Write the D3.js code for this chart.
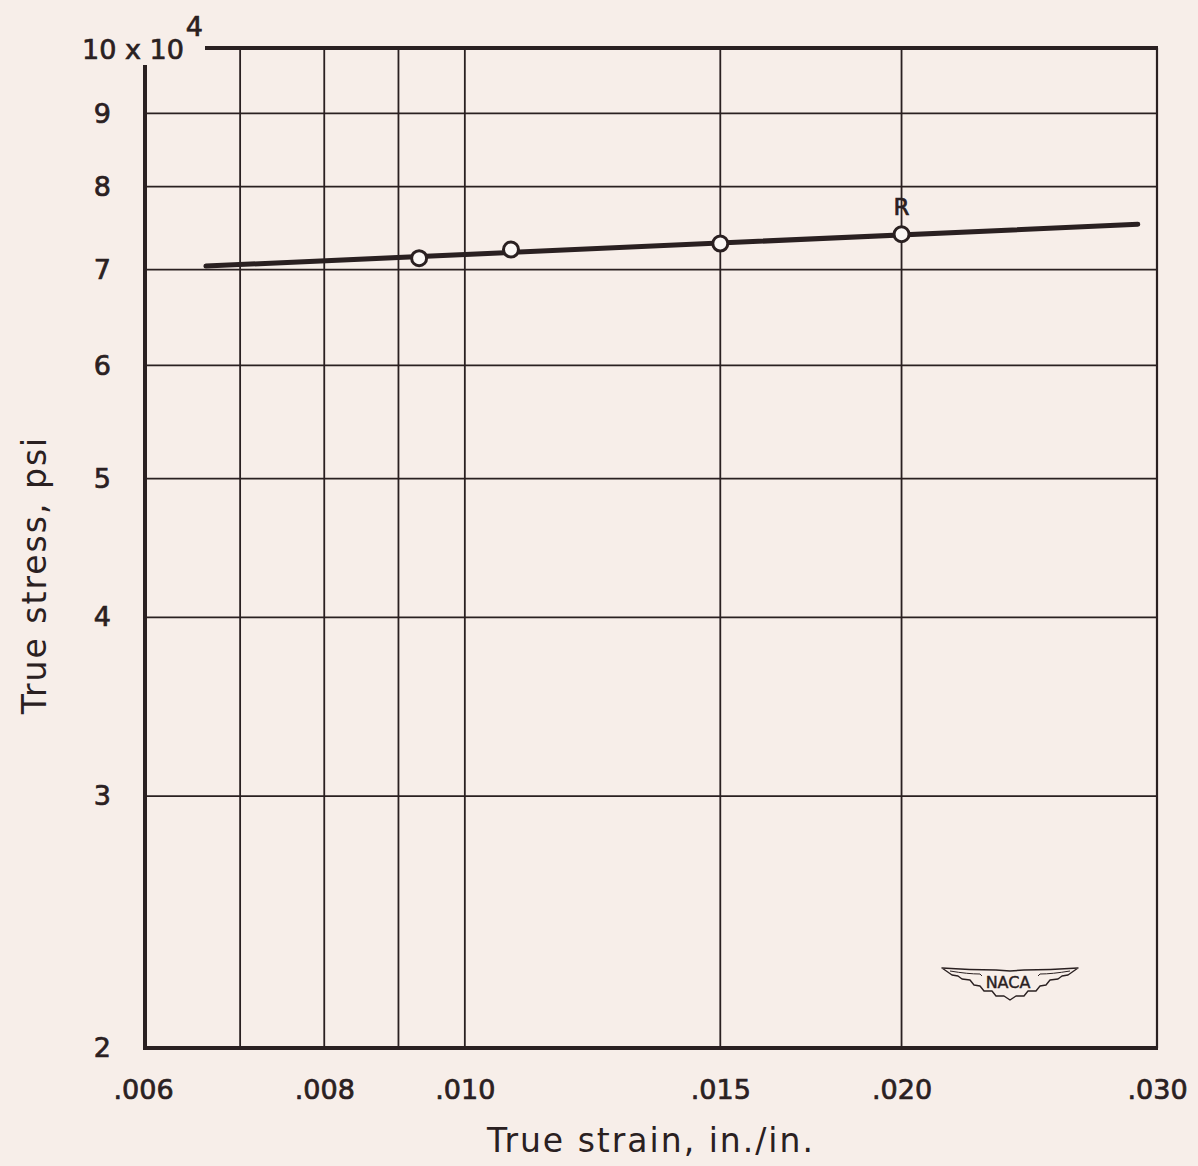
<!DOCTYPE html>
<html>
<head>
<meta charset="utf-8">
<title>True stress vs true strain</title>
<script src="https://d3js.org/d3.v7.min.js"></script>
<style>
  html, body { margin: 0; padding: 0; background: #f7eee9; }
  svg { display: block; }
  text { font-family: "DejaVu Sans", sans-serif; fill: #2a2021; }
  .tick text, .lbl { stroke: #2a2021; stroke-width: 0.7px; }
</style>
</head>
<body>
<div id="chart"></div>
<script>
// data
const strain = [0.0093, 0.01076, 0.0150, 0.0200]
const stress = [7.13, 7.23, 7.30, 7.41]          // x 10^4 psi
const pointLabels = ["", "", "", "R"]
const fitStrain = [0.00663, 0.0291]
const fitStress = [7.04, 7.53]

const xGrid = [0.007, 0.008, 0.009, 0.010, 0.015, 0.020]
const xTicks = [0.006, 0.008, 0.010, 0.015, 0.020, 0.030]
const xTickLabels = [".006", ".008", ".010", ".015", ".020", ".030"]
const yGrid = [3, 4, 5, 6, 7, 8, 9]
const yTicks = [2, 3, 4, 5, 6, 7, 8, 9]

const w = 1198, h = 1166
const ink = "#2a2021"

const x = d3.scaleLog().domain([0.006, 0.030]).range([143, 1157])
const y = d3.scaleLog().domain([2, 10]).range([1048, 48])

const svg = d3.select("#chart").append("svg")
    .attr("width", w)
    .attr("height", h)

// grid
svg.append("g").selectAll("line")
    .data(yGrid).enter().append("line")
    .attr("x1", x(0.006)).attr("x2", x(0.030))
    .attr("y1", d => y(d)).attr("y2", d => y(d))
    .attr("stroke", ink).attr("stroke-width", 1.8)

svg.append("g").selectAll("line")
    .data(xGrid).enter().append("line")
    .attr("x1", d => x(d)).attr("x2", d => x(d))
    .attr("y1", y(2)).attr("y2", y(10))
    .attr("stroke", ink).attr("stroke-width", 1.8)

// frame: left + bottom heavy, top starts right of the label, right thin
svg.append("line") // left
    .attr("x1", x(0.006) + 2).attr("x2", x(0.006) + 2)
    .attr("y1", y(10) + 17).attr("y2", y(2))
    .attr("stroke", ink).attr("stroke-width", 4)
svg.append("line") // bottom
    .attr("x1", x(0.006)).attr("x2", x(0.030) + 1)
    .attr("y1", y(2)).attr("y2", y(2))
    .attr("stroke", ink).attr("stroke-width", 4)
svg.append("line") // top
    .attr("x1", 205).attr("x2", x(0.030) + 1)
    .attr("y1", y(10)).attr("y2", y(10))
    .attr("stroke", ink).attr("stroke-width", 4)
svg.append("line") // right
    .attr("x1", x(0.030)).attr("x2", x(0.030))
    .attr("y1", y(10)).attr("y2", y(2))
    .attr("stroke", ink).attr("stroke-width", 2.2)

// axes labels (ticks hidden, grid drawn above)
const xAxis = d3.axisBottom(x)
    .tickValues(xTicks)
    .tickFormat((d, i) => xTickLabels[i])
    .tickSize(0).tickPadding(32)
const gx = svg.append("g")
    .attr("transform", "translate(0," + y(2) + ")")
    .call(xAxis)
gx.select(".domain").remove()
gx.selectAll("text")
    .style("font-size", "27px")
    .style("font-family", "DejaVu Sans, sans-serif")
    .attr("fill", ink)

const yAxis = d3.axisLeft(y)
    .tickValues(yTicks)
    .tickFormat(d3.format("d"))
    .tickSize(0).tickPadding(32)
const gy = svg.append("g")
    .attr("transform", "translate(" + x(0.006) + ",0)")
    .call(yAxis)
gy.select(".domain").remove()
gy.selectAll("text")
    .style("font-size", "27px")
    .style("font-family", "DejaVu Sans, sans-serif")
    .attr("fill", ink)

// "10 x 10^4" at the top
const topLabel = svg.append("text")
    .attr("class", "lbl")
    .attr("x", 82).attr("y", 59)
    .style("font-size", "27px")
topLabel.append("tspan").text("10 x 10")
topLabel.append("tspan").text("4").attr("dy", -23).attr("dx", 2).style("font-size", "27px")

// axis titles
svg.append("text")
    .attr("x", 651).attr("y", 1152)
    .attr("text-anchor", "middle")
    .style("font-size", "33px")
    .style("letter-spacing", "2px")
    .text("True strain, in./in.")

svg.append("text")
    .attr("transform", "translate(46,575) rotate(-90)")
    .attr("text-anchor", "middle")
    .style("font-size", "33px")
    .style("letter-spacing", "2px")
    .text("True stress, psi")

// fitted line
const line = d3.line().x(d => x(d[0])).y(d => y(d[1]))
svg.append("path")
    .datum(d3.zip(fitStrain, fitStress))
    .attr("d", line)
    .attr("fill", "none")
    .attr("stroke", ink)
    .attr("stroke-width", 5)
    .attr("stroke-linecap", "round")

// data points
const pts = d3.zip(strain, stress, pointLabels)
svg.append("g").selectAll("circle")
    .data(pts).enter().append("circle")
    .attr("cx", d => x(d[0]))
    .attr("cy", d => y(d[1]))
    .attr("r", 7.5)
    .attr("fill", "#fbf7f5")
    .attr("stroke", ink)
    .attr("stroke-width", 3)

svg.append("g").selectAll("text")
    .data(pts.filter(d => d[2])).enter().append("text")
    .attr("class", "lbl")
    .attr("x", d => x(d[0]))
    .attr("y", d => y(d[1]) - 19)
    .attr("text-anchor", "middle")
    .style("font-size", "23px")
    .text(d => d[2])

// NACA wings logo
const logo = svg.append("g").attr("transform", "translate(1010,983)")
const wing = "M-68,-15 Q-40,-13 -14,-13 L0,-12 L14,-13 Q40,-13 68,-15 " +
    "L58,-8 L52,-7 L48,-4 L40,-3 L36,2 L30,3 L26,8 L18,8 L14,13 L6,13 L0,17 " +
    "L-6,13 L-14,13 L-18,8 L-26,8 L-30,3 L-36,2 L-40,-3 L-48,-4 L-52,-7 L-58,-8 Z"
logo.append("path")
    .attr("d", wing)
    .attr("fill", "none")
    .attr("stroke", ink)
    .attr("stroke-width", 1.4)
    .attr("stroke-linejoin", "round")
logo.append("path")
    .attr("d", "M-60,-12 Q-42,-9 -30,-9 L-28,-7 M60,-12 Q42,-9 30,-9 L28,-7")
    .attr("fill", "none")
    .attr("stroke", ink)
    .attr("stroke-width", 1)
logo.append("text")
    .attr("x", -2).attr("y", 5)
    .attr("text-anchor", "middle")
    .style("font-size", "16px")
    .style("stroke", ink).style("stroke-width", "0.4px")
    .text("NACA")
</script>
</body>
</html>
